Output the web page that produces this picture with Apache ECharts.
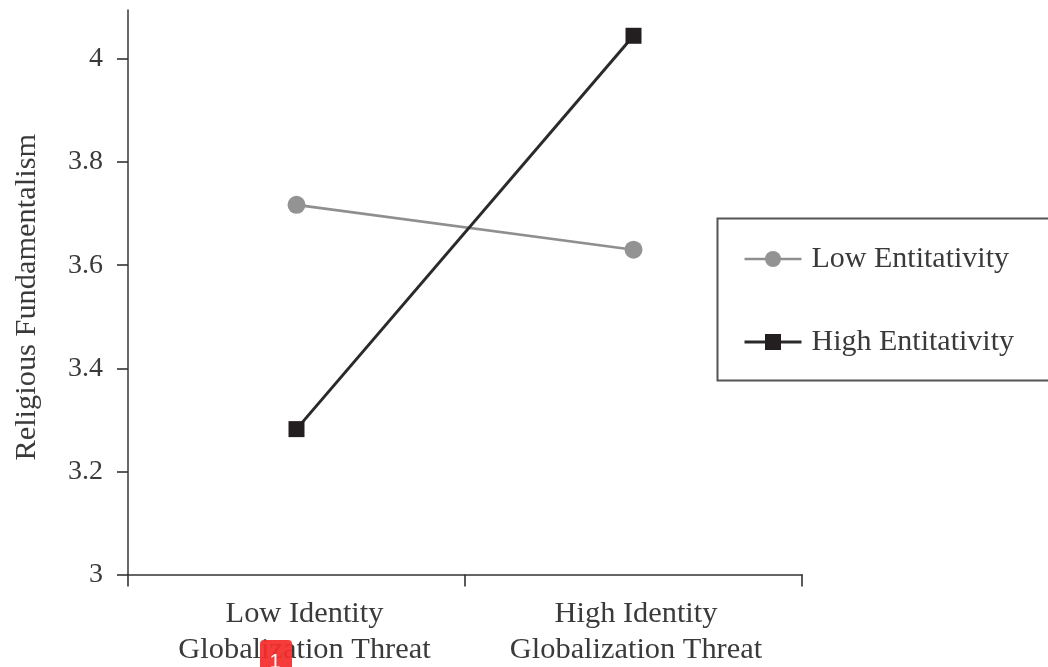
<!DOCTYPE html>
<html><head><meta charset="utf-8">
<style>html,body{margin:0;padding:0;background:#fff}#c{width:1048px;height:667px}</style>
<script src="https://cdn.jsdelivr.net/npm/echarts@6/dist/echarts.min.js"></script>
</head><body><div id="c"></div>
<script>
const categories = ['Low Identity\nGlobalization Threat', 'High Identity\nGlobalization Threat'];
const lowEntitativity = [3.717, 3.63];
const highEntitativity = [3.282, 4.045];
const yTicks = [3, 3.2, 3.4, 3.6, 3.8, 4];
const FONT = 'Liberation Serif';
const INK = '#3a3a3c';
const labelStyle = {fontFamily:FONT,fontSize:30.4,color:INK,lineHeight:36};
const chart = echarts.init(document.getElementById('c'), null, {renderer:'canvas'});
chart.setOption({
  animation:false,
  backgroundColor:'#fff',
  grid:{left:128,top:10,width:674,height:564.5,containLabel:false,outerBoundsMode:'none'},
  legend:{
    left:738,top:239,orient:'vertical',itemWidth:57,itemHeight:20,itemGap:53,
    symbolSize:'inherit',
    lineStyle:{width:'inherit'},
    data:['Low Entitativity','High Entitativity'],
    textStyle:{fontFamily:FONT,fontSize:30,color:INK,padding:[0,0,0,5]}
  },
  xAxis:{
    type:'category',data:categories,boundaryGap:true,
    axisLine:{lineStyle:{color:'#333',width:1.6}},
    axisTick:{show:true,length:12,alignWithLabel:false,lineStyle:{color:'#333',width:1.6}},
    axisLabel:{margin:22,interval:0,
      formatter:(v,i)=>v.split('\n').map(l=>'{'+(i?'b':'a')+'|'+l+'}').join('\n'),
      rich:{a:{...labelStyle,padding:[0,0,0,16]},b:{...labelStyle,padding:[0,0,0,5]}}}
  },
  yAxis:{
    type:'value',min:3,max:4.095,
    name:'Religious Fundamentalism',nameLocation:'middle',nameGap:86,nameRotate:90,
    nameTextStyle:{fontFamily:FONT,fontSize:30.4,color:INK,padding:[0,10,0,0]},
    splitLine:{show:false},
    axisLine:{show:true,lineStyle:{color:'#444',width:1.6}},
    axisTick:{show:true,length:11,customValues:yTicks,lineStyle:{color:'#333',width:1.6}},
    axisLabel:{fontFamily:FONT,fontSize:28,color:INK,margin:25,padding:[4,0,0,0],customValues:yTicks,
      formatter:v=>String(Math.round(v*10)/10)}
  },
  series:[
    {name:'Low Entitativity',type:'line',data:lowEntitativity,symbol:'circle',symbolSize:18,
      lineStyle:{color:'#8f8f8f',width:2.6},itemStyle:{color:'#939393'}},
    {name:'High Entitativity',type:'line',data:highEntitativity,symbol:'rect',symbolSize:16,
      lineStyle:{color:'#2b2a2b',width:3},itemStyle:{color:'#231f20'}}
  ],
  graphic:[
    {type:'rect',silent:true,z:-1,shape:{x:717.5,y:218.5,width:340,height:162},style:{fill:'#fff',stroke:'#555',lineWidth:2}},
    {type:'rect',silent:true,z:100,x:260,y:640,shape:{x:0,y:0,width:32,height:40,r:[4,4,0,0]},style:{fill:'#f52c2c',opacity:0.93}},
    {type:'text',silent:true,z:101,x:275,y:652,style:{x:0,y:0,text:'1',fill:'#fff',font:'20px "Liberation Sans"',align:'center'}}
  ]
});
</script></body></html>
